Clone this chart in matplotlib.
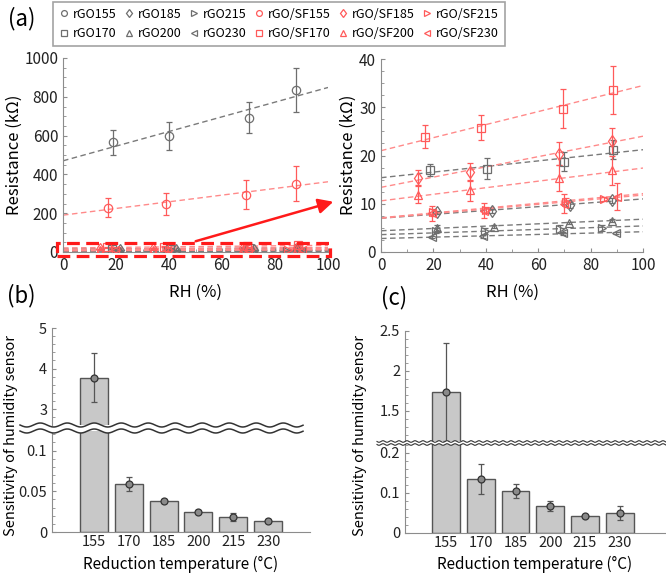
import numpy as np
import matplotlib
matplotlib.use("Agg")
import matplotlib.pyplot as plt
from matplotlib.lines import Line2D
from matplotlib.patches import Rectangle, FancyArrowPatch, Polygon
from matplotlib.ticker import AutoMinorLocator

plt.rcParams["font.family"] = ["Noto Sans CJK KR", "DejaVu Sans"]
plt.rcParams["font.size"] = 11

W, H = 666, 573

# ---- panel (a): resistance vs RH ----
labels = ["rGO155", "rGO170", "rGO185", "rGO200", "rGO215", "rGO230",
          "rGO/SF155", "rGO/SF170", "rGO/SF185", "rGO/SF200", "rGO/SF215", "rGO/SF230"]
markers = ["o", "s", "d", "^", ">", "<"] * 2
groups = ["rGO"] * 6 + ["SF"] * 6

rh = [
    [19, 40, 70, 88],
    [18.6, 40.5, 70, 88.5],
    [21.5, 42.5, 72, 88.3],
    [21.5, 43, 71.6, 88.2],
    [21, 39.7, 68.5, 84.5],
    [19.5, 39, 69.5, 89.7],
    [17, 39, 69, 88],
    [16.7, 38.3, 69.5, 88.5],
    [14.1, 34.1, 67.8, 88.2],
    [14.1, 34.1, 67.8, 88.2],
    [20, 40, 70.5, 85],
    [19.5, 39.3, 69.8, 90],
]
resist = [
    [565, 598, 693, 835],
    [17.0, 17.3, 18.7, 21.2],
    [8.2, 8.5, 9.7, 10.7],
    [4.9, 5.2, 6.0, 6.5],
    [4.4, 4.4, 4.7, 5.0],
    [3.1, 3.3, 3.9, 4.0],
    [228, 247, 296, 353],
    [23.9, 25.8, 29.7, 33.6],
    [15.4, 16.6, 20.4, 23.0],
    [11.9, 12.8, 15.4, 16.9],
    [8.2, 8.7, 10.3, 11.0],
    [8.0, 8.6, 10.0, 11.5],
]
resist_err = [
    [63, 70, 81, 112],
    [1.2, 2.1, 2.0, 2.0],
    [0.4, 0.5, 0.6, 0.5],
    [0.6, 0.3, 0.3, 0.3],
    [0.5, 0.6, 0.8, 0.6],
    [0.2, 0.3, 0.3, 0.2],
    [50, 55, 74, 92],
    [2.4, 2.6, 4.0, 5.0],
    [1.5, 1.8, 2.4, 2.7],
    [1.8, 2.2, 2.7, 3.0],
    [0.8, 0.6, 0.9, 0.4],
    [1.5, 1.5, 2.0, 2.8],
]
# linear fits: value at RH=0 and RH=100
fit_start = [470, 15.4, 7.0, 4.4, 3.6, 2.8, 190, 21.0, 13.4, 10.6, 7.1, 7.0]
fit_end = [848, 21.2, 11.0, 6.8, 5.4, 4.2, 362, 34.5, 24.0, 17.4, 12.1, 11.8]

# ---- panels (b), (c): sensitivity ----
temps = ["155", "170", "185", "200", "215", "230"]
sens_b = [3.78, 0.059, 0.038, 0.025, 0.018, 0.014]
sens_b_err = [0.61, 0.009, 0.003, 0.002, 0.005, 0.002]
sens_c = [1.74, 0.134, 0.105, 0.068, 0.042, 0.050]
sens_c_err = [0.61, 0.037, 0.018, 0.012, 0.002, 0.018]

col = {"rGO": "#6e6e6e", "SF": "#ff5a5a"}
line_col = {"rGO": "#7a7a7a", "SF": "#ff8a8a"}
spine_col = "#8c8c8c"


def fig_axes(x0, y0, x1, y1):
    # pixel box (top-left origin) -> figure axes
    return fig.add_axes([x0 / W, 1 - y1 / H, (x1 - x0) / W, (y1 - y0) / H])


def style(ax, bottom=True):
    for s in ["top", "right"]:
        ax.spines[s].set_visible(False)
    ax.spines["left"].set_color(spine_col)
    ax.spines["bottom"].set_color(spine_col)
    if not bottom:
        ax.spines["bottom"].set_visible(False)
    ax.tick_params(direction="in", color=spine_col, labelcolor="#222222", length=3)
    ax.tick_params(which="minor", direction="in", color=spine_col, length=2)


fig = plt.figure(figsize=(W / 100, H / 100), dpi=100)

ax_l = fig_axes(63, 58, 328, 252)
ax_r = fig_axes(381, 59, 643, 252)
xx = np.array([0, 100])
handles = []
for ax in (ax_l, ax_r):
    for i in range(12):
        g = groups[i]
        ax.plot(xx, [fit_start[i], fit_end[i]], ls=(0, (4, 2.5)), color=line_col[g], lw=1, zorder=1)
        ax.errorbar(rh[i], resist[i], yerr=resist_err[i], fmt="none", ecolor=col[g],
                    elinewidth=0.9, capsize=2, capthick=0.9, zorder=2)
        h, = ax.plot(rh[i], resist[i], ls="none", marker=markers[i], ms=6 if markers[i] != "d" else 6.5,
                     mfc="none", mec=col[g], mew=0.9, zorder=3, label=labels[i])
        if ax is ax_l:
            handles.append(h)
    ax.set_xlim(0, 100)
    style(ax)
    ax.xaxis.set_minor_locator(AutoMinorLocator(2))
    ax.yaxis.set_minor_locator(AutoMinorLocator(4))
    ax.set_xticks([0, 20, 40, 60, 80, 100])

ax_l.set_ylim(0, 1000)
ax_l.set_yticks([0, 200, 400, 600, 800, 1000])
ax_r.set_ylim(0, 40)
ax_r.set_yticks([0, 10, 20, 30, 40])

# zoom box and arrow
ax_l.add_patch(Rectangle((-2.3, -20), 103.1, 66, fill=False, ec="#ff1a1a", lw=2.3,
                         ls=(0, (4, 2)), clip_on=False, zorder=5))
fig.add_artist(FancyArrowPatch((193 / W, 1 - 242 / H), (336 / W, 1 - 201 / H),
                               transform=fig.transFigure, arrowstyle="-|>,head_length=6,head_width=3",
                               color="#ff1a1a", lw=1.8, mutation_scale=1.5))

for xc in (196, 512):
    fig.text(xc / W, 1 - 292 / H, "RH (%)", ha="center", va="center", fontsize=12)
fig.text(14 / W, 1 - 155 / H, "Resistance (kΩ)", rotation=90, ha="center", va="center", fontsize=12)
fig.text(348 / W, 1 - 155 / H, "Resistance (kΩ)", rotation=90, ha="center", va="center", fontsize=12)

leg = fig.legend(handles=handles, ncol=6, loc="upper left", bbox_to_anchor=(53 / W, 1 - 2 / H),
                 frameon=True, fancybox=False, edgecolor="#8c8c8c", fontsize=9,
                 handlelength=0.8, handletextpad=0.35, columnspacing=0.55, borderpad=0.45,
                 labelspacing=0.5, markerscale=0.7, borderaxespad=0)
leg.get_frame().set_linewidth(1.2)


# ---- broken bar panels ----
def wave(x0, x1, y, amp, period):
    x = np.linspace(x0, x1, 600)
    yy = y + amp * np.sin(2 * np.pi * (x - x0) / period)
    return x, yy


def broken(ax_up, ax_lo, vals, errs, up_lim, lo_lim, up_ticks, lo_ticks, lo_labels, xl):
    pos = np.arange(1, 7)
    for ax in (ax_up, ax_lo):
        ax.bar(pos, vals, width=0.8, color="#c8c8c8", edgecolor="#555555", lw=1.0, zorder=1)
        ax.errorbar(pos, vals, yerr=errs, fmt="o", ms=5, mfc="#8a8a8a", mec="#333333", mew=0.9,
                    ecolor="#555555", elinewidth=0.9, capsize=2.5, capthick=0.9, zorder=3)
        ax.set_xlim(*xl)
    ax_up.set_ylim(*up_lim)
    ax_lo.set_ylim(*lo_lim)
    style(ax_up, bottom=False)
    style(ax_lo)
    ax_up.set_xticks([])
    ax_up.set_yticks(up_ticks)
    ax_up.set_yticklabels([f"{t:g}" for t in up_ticks], fontsize=10.5)
    ax_lo.set_yticks(lo_ticks)
    ax_lo.set_yticklabels(lo_labels, fontsize=10.5)
    ax_lo.set_xticks(pos)
    ax_lo.set_xticklabels(temps, fontsize=10.5)
    ax_lo.tick_params(axis="x", length=0, pad=2)
    ax_up.yaxis.set_minor_locator(AutoMinorLocator(5))
    ax_lo.yaxis.set_minor_locator(AutoMinorLocator(5))


ax_bu = fig_axes(52, 328, 310, 425)
ax_bl = fig_axes(52, 431, 310, 532)
broken(ax_bu, ax_bl, sens_b, sens_b_err, (2.61, 5), (0, 0.124), [3, 4, 5],
       [0, 0.05, 0.1], ["0", "0.05", "0.1"], (-0.2, 7.2))

ax_cu = fig_axes(405, 331, 665, 441)
ax_cl = fig_axes(405, 444, 665, 533)
broken(ax_cu, ax_cl, sens_c, sens_c_err, (1.125, 2.5), (0, 0.222), [1.5, 2, 2.5],
       [0, 0.1, 0.2], ["0", "0.1", "0.2"], (-0.18, 7.3))

# wavy break marks
for (x0, x1, ya, yb, amp, per, lw) in [(20, 303, 425, 431, 2.0, 27, 1.1), (377, 666, 441.5, 444.5, 0.8, 8, 0.8)]:
    xa, wa = wave(x0, x1, ya, amp, per)
    xb, wb = wave(x0, x1, yb, amp, per)
    poly = np.column_stack([np.r_[xa, xb[::-1]] / W, 1 - np.r_[wa, wb[::-1]] / H])
    fig.add_artist(Polygon(poly, closed=True, transform=fig.transFigure, fc="white", ec="none", zorder=10))
    for xw, yw in ((xa, wa), (xb, wb)):
        fig.add_artist(Line2D(xw / W, 1 - yw / H, transform=fig.transFigure, color="#333333", lw=lw, zorder=11))

for xc in (181, 535):
    fig.text(xc / W, 1 - 564 / H, "Reduction temperature (°C)", ha="center", va="center", fontsize=11)
fig.text(11 / W, 1 - 435 / H, "Sensitivity of humidity sensor", rotation=90, ha="center", va="center", fontsize=10.5)
fig.text(360 / W, 1 - 435 / H, "Sensitivity of humidity sensor", rotation=90, ha="center", va="center", fontsize=10.5)

# panel letters
fig.text(22 / W, 1 - 19 / H, "(a)", ha="center", va="center", fontsize=16)
fig.text(21 / W, 1 - 296 / H, "(b)", ha="center", va="center", fontsize=16)
fig.text(394 / W, 1 - 298 / H, "(c)", ha="center", va="center", fontsize=16)

fig.savefig("out.png", dpi=100)
